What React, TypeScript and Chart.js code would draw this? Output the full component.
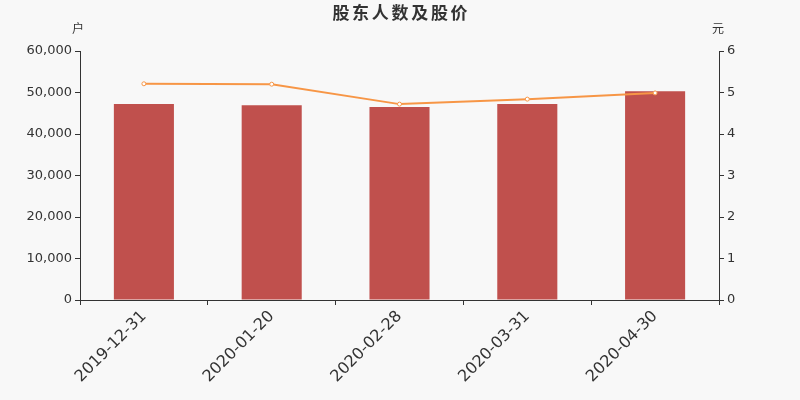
import React, { useEffect, useRef } from "react";
import { Chart, registerables } from "chart.js";

Chart.register(...registerables);

const dates = ["2019-12-31", "2020-01-20", "2020-02-28", "2020-03-31", "2020-04-30"];
const holders = [47200, 46950, 46500, 47200, 50300];
const prices = [5.21, 5.2, 4.72, 4.84, 4.99];

const FONT = "'DejaVu Sans', 'Noto Sans CJK SC', sans-serif";

const headerPlugin = {
  id: "header",
  afterDraw(chart: Chart) {
    const ctx = chart.ctx;
    ctx.save();
    ctx.fillStyle = "#333";
    ctx.textAlign = "center";
    ctx.textBaseline = "middle";
    ctx.font = "bold 17px 'Noto Sans CJK SC', sans-serif";
    const title = "股东人数及股价";
    // spread characters slightly like the original
    const step = 19.7;
    const start = 400 - (step * (title.length - 1)) / 2;
    for (let i = 0; i < title.length; i++) {
      ctx.fillText(title[i], start + i * step, 13);
    }
    ctx.font = "12px 'Noto Sans CJK SC', sans-serif";
    ctx.fillText("户", 78, 28);
    ctx.fillText("元", 718, 28);
    ctx.restore();
  },
};

const App = () => {
  const chartRef = useRef<HTMLCanvasElement | null>(null);

  useEffect(() => {
    if (!chartRef.current) return;
    const ctx = chartRef.current.getContext("2d");
    if (!ctx) return;

    const chart = new Chart(ctx, {
      type: "bar",
      data: {
        labels: dates,
        datasets: [
          {
            type: "line",
            label: "股价",
            data: prices,
            yAxisID: "y1",
            borderColor: "#f79646",
            backgroundColor: "#ffffff",
            pointBorderColor: "#f79646",
            pointBackgroundColor: "#ffffff",
            pointRadius: 2,
            pointBorderWidth: 1,
            borderWidth: 2,
            tension: 0,
            order: 0,
          },
          {
            type: "bar",
            label: "股东人数",
            data: holders,
            yAxisID: "y",
            backgroundColor: "#c0504d",
            categoryPercentage: 1,
            barPercentage: 0.47,
            order: 1,
          },
        ],
      },
      options: {
        animation: false,
        responsive: false,
        layout: { padding: { top: 51, left: 0, right: 0, bottom: 0 } },
        plugins: {
          legend: { display: false },
          tooltip: { enabled: false },
          title: { display: false },
        },
        scales: {
          x: {
            offset: true,
            grid: {
              offset: true,
              drawOnChartArea: false,
              drawTicks: true,
              tickLength: 5,
              color: "#333",
            },
            border: { display: true, color: "#333", width: 1 },
            ticks: {
              color: "#333",
              font: { family: FONT, size: 16 },
              maxRotation: 45,
              minRotation: 45,
              padding: 2,
            },
            afterFit(scale: any) {
              scale.height = 100;
            },
          },
          y: {
            position: "left",
            min: 0,
            max: 60000,
            grid: {
              drawOnChartArea: false,
              drawTicks: true,
              tickLength: 5,
              color: "#333",
            },
            border: { display: true, color: "#333", width: 1 },
            ticks: {
              stepSize: 10000,
              color: "#333",
              padding: 3,
              font: { family: FONT, size: 13 },
              callback: (v: any) => Number(v).toLocaleString("en-US"),
            },
            afterFit(scale: any) {
              scale.width = 80;
            },
          },
          y1: {
            position: "right",
            min: 0,
            max: 6,
            grid: {
              drawOnChartArea: false,
              drawTicks: true,
              tickLength: 5,
              color: "#333",
            },
            border: { display: true, color: "#333", width: 1 },
            ticks: {
              stepSize: 1,
              color: "#333",
              padding: 3,
              font: { family: FONT, size: 13 },
            },
            afterFit(scale: any) {
              scale.width = 81;
            },
          },
        },
      },
      plugins: [headerPlugin],
    });

    return () => {
      chart.destroy();
    };
  }, []);

  return (
    <div
      style={{
        position: "fixed",
        left: 0,
        top: 0,
        width: 800,
        height: 400,
        background: "#f8f8f8",
      }}
    >
      <canvas ref={chartRef} width={800} height={400} style={{ width: 800, height: 400 }} />
    </div>
  );
};

export default App;
